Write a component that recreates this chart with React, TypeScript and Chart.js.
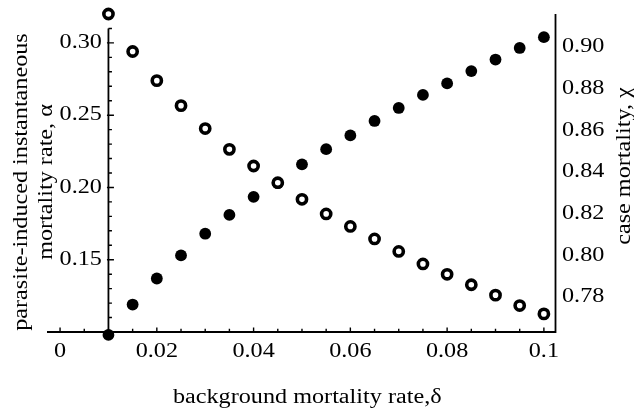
import React, { useEffect, useRef } from "react";
import { Chart, registerables } from "chart.js";

Chart.register(...registerables);

// background mortality rate, delta
const deltaValues = [
  0.01, 0.015, 0.02, 0.025, 0.03, 0.035, 0.04, 0.045, 0.05, 0.055,
  0.06, 0.065, 0.07, 0.075, 0.08, 0.085, 0.09, 0.095, 0.1,
];
// parasite-induced instantaneous mortality rate, alpha (filled dots, left axis)
const alphaValues = [
  0.098, 0.119, 0.137, 0.153, 0.168, 0.181, 0.1935, 0.203, 0.216, 0.2265,
  0.236, 0.246, 0.255, 0.264, 0.272, 0.2805, 0.2885, 0.2965, 0.304,
];
// case mortality, chi (open circles, right axis)
const chiValues = [
  0.916, 0.898, 0.884, 0.872, 0.861, 0.851, 0.843, 0.835, 0.827, 0.82,
  0.814, 0.808, 0.802, 0.796, 0.791, 0.786, 0.781, 0.776, 0.772,
];

const xTickValues = [0, 0.02, 0.04, 0.06, 0.08, 0.1];
const xTickLabels = ["0", "0.02", "0.04", "0.06", "0.08", "0.1"];
const leftTickValues = [0.15, 0.2, 0.25, 0.3];
const leftTickLabels = ["0.15", "0.20", "0.25", "0.30"];
const rightTickValues = [0.78, 0.8, 0.82, 0.84, 0.86, 0.88, 0.9];
const rightTickLabels = ["0.78", "0.80", "0.82", "0.84", "0.86", "0.88", "0.90"];

const xTitle = "background mortality rate,\u03B4";
const leftTitleLines = ["parasite-induced instantaneous", "mortality rate, \u03B1"];
const rightTitle = "case mortality, \u03C7";

const FONT = '20.5px "Liberation Serif", "Times New Roman", serif';
const SX = 1.18; // horizontal text stretch

function drawText(
  ctx: CanvasRenderingContext2D,
  text: string,
  x: number,
  y: number,
  align: CanvasTextAlign,
  rotate: boolean
) {
  ctx.save();
  ctx.translate(x, y);
  if (rotate) ctx.rotate(-Math.PI / 2);
  ctx.scale(SX, 1);
  ctx.font = FONT;
  ctx.fillStyle = "#000";
  ctx.textAlign = align;
  ctx.textBaseline = "alphabetic";
  ctx.fillText(text, 0, 0);
  ctx.restore();
}

const axesPlugin = {
  id: "mathematicaAxes",
  beforeDatasetsDraw(chart: any) {
    const ctx: CanvasRenderingContext2D = chart.ctx;
    const { left, right, top, bottom } = chart.chartArea;
    const xs = chart.scales.x;
    const yl = chart.scales.yL;
    const yAxisX = xs.getPixelForValue(0.01);
    const xAxisY = yl.getPixelForValue(0.1);
    ctx.save();
    ctx.strokeStyle = "#000";
    ctx.lineWidth = 1.8;
    ctx.lineCap = "butt";
    ctx.beginPath();
    // x axis
    ctx.moveTo(left, xAxisY);
    ctx.lineTo(right + 0.9, xAxisY);
    // left axis
    ctx.moveTo(yAxisX, xAxisY);
    ctx.lineTo(yAxisX, yl.getPixelForValue(0.31));
    // right axis
    ctx.moveTo(right, top);
    ctx.lineTo(right, xAxisY + 0.9);
    ctx.stroke();

    ctx.lineWidth = 1.4;
    ctx.beginPath();
    for (let i = 0; i <= 20; i++) {
      const v = i * 0.005;
      const px = xs.getPixelForValue(v);
      const major = i % 4 === 0;
      ctx.moveTo(px, xAxisY);
      ctx.lineTo(px, xAxisY - (major ? 4.5 : 3.2));
    }
    for (let i = 11; i <= 31; i++) {
      const v = i * 0.01;
      const py = yl.getPixelForValue(v);
      const major = i % 5 === 0;
      ctx.moveTo(major ? yAxisX - 1.5 : yAxisX, py);
      ctx.lineTo(yAxisX + (major ? 5.5 : 3.5), py);
    }
    ctx.stroke();
    ctx.restore();
  },
  afterDraw(chart: any) {
    const ctx: CanvasRenderingContext2D = chart.ctx;
    const { left, right, top, bottom } = chart.chartArea;
    const xs = chart.scales.x;
    const yl = chart.scales.yL;
    const yr = chart.scales.yR;
    const yAxisX = xs.getPixelForValue(0.01);
    const xAxisY = yl.getPixelForValue(0.1);

    xTickValues.forEach((v, i) => {
      drawText(ctx, xTickLabels[i], xs.getPixelForValue(v), xAxisY + 24.7, "center", false);
    });
    leftTickValues.forEach((v, i) => {
      drawText(ctx, leftTickLabels[i], yAxisX - 6.5, yl.getPixelForValue(v) + 5.1, "right", false);
    });
    rightTickValues.forEach((v, i) => {
      drawText(ctx, rightTickLabels[i], right + 6.5, yr.getPixelForValue(v) + 5.1, "left", false);
    });

    const midX = (left + right) / 2;
    drawText(ctx, xTitle, midX + 6, xAxisY + 71, "center", false);
    const cy = 182;
    drawText(ctx, leftTitleLines[0], 27, cy, "center", true);
    drawText(ctx, leftTitleLines[1], 52, cy, "center", true);
    drawText(ctx, rightTitle, 630, 166, "center", true);
  },
};

export default function App() {
  const canvasRef = useRef<HTMLCanvasElement | null>(null);

  useEffect(() => {
    if (!canvasRef.current) return;
    const chart = new Chart(canvasRef.current, {
      type: "scatter",
      data: {
        datasets: [
          {
            label: "case mortality",
            data: deltaValues.map((d, i) => ({ x: d, y: chiValues[i] })),
            yAxisID: "yR",
            pointRadius: 4.6,
            pointHoverRadius: 4.6,
            pointBorderWidth: 3.6,
            pointBorderColor: "#000",
            pointBackgroundColor: "#fff",
            showLine: false,
            clip: false,
          },
          {
            label: "alpha",
            data: deltaValues.map((d, i) => ({ x: d, y: alphaValues[i] })),
            yAxisID: "yL",
            pointRadius: 5.9,
            pointHoverRadius: 5.9,
            pointBorderWidth: 0,
            pointBackgroundColor: "#000",
            showLine: false,
            clip: false,
          },
        ],
      },
      options: {
        animation: false,
        responsive: true,
        maintainAspectRatio: false,
        events: [],
        layout: { padding: { left: 47, top: 14, right: 78.5, bottom: 80 } },
        plugins: { legend: { display: false }, tooltip: { enabled: false } },
        scales: {
          x: { type: "linear", min: -0.0027, max: 0.1024, display: false },
          yL: { type: "linear", min: 0.1, max: 0.32, display: false },
          yR: { type: "linear", min: 0.7633, max: 0.916, display: false },
        },
      },
      plugins: [axesPlugin],
    });
    return () => chart.destroy();
  }, []);

  return (
    <div style={{ position: "fixed", left: 0, top: 0, width: 634, height: 412, background: "#fff" }}>
      <canvas ref={canvasRef} />
    </div>
  );
}
